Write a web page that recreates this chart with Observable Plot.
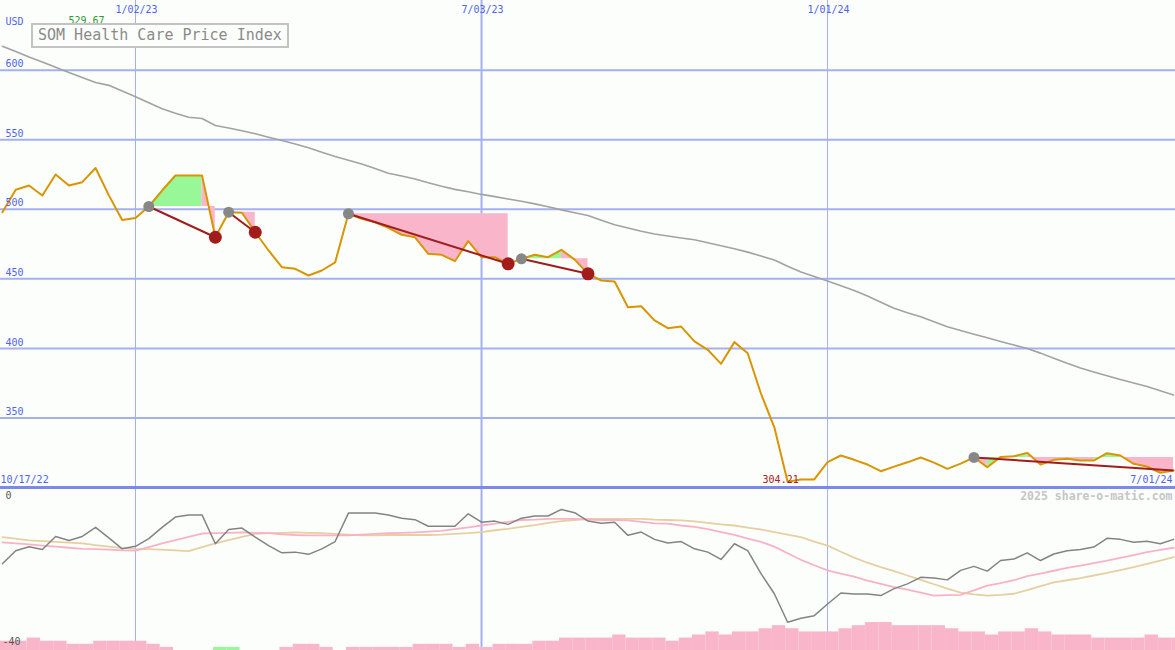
<!DOCTYPE html>
<html><head><meta charset="utf-8">
<script src="https://cdn.jsdelivr.net/npm/d3@7"></script>
<script src="https://cdn.jsdelivr.net/npm/@observablehq/plot@0.6"></script>
<style>
html,body{margin:0;padding:0;background:#fcfefc;}
#wrap{position:relative;width:1175px;height:650px;overflow:hidden;background:#fcfefc;}
#wrap svg{display:block;}
#title{position:absolute;left:31px;top:23px;width:258px;height:25px;box-sizing:border-box;border:2px solid #c3c3c3;
  font:15px "DejaVu Sans Mono",monospace;color:#8a8a8a;line-height:21px;padding-left:5px;white-space:nowrap;background:#fcfefc;}
</style></head><body>
<div id="wrap"><div id="top"></div><div id="bottom"></div><div id="title"></div></div>
<script>
// ---------- data ----------
const firstWeek = "2022-10-24", lastWeek = "2024-07-01";
const xStart = "2022-10-23", xEnd = "2024-07-02";
const gridDates = ["2023-01-02", "2023-07-03", "2024-01-01"];
const gridLabels = ["1/02/23", "7/03/23", "1/01/24"];
const priceTicks = [350, 400, 450, 500, 550, 600];
const edgeLabels = ["10/17/22", "7/01/24"];
const currency = "USD";
const titleText = "SOM Health Care Price Index";
const credit = "2025 share-o-matic.com";

const price = [
497.9, 514.0, 517.1, 509.9, 525.0, 517.1, 519.5, 529.67, 510.0, 492.3,
493.7, 502.0, 513.5, 524.3, 524.3, 524.3, 479.9, 497.9, 497.5, 483.5,
470.4, 458.4, 457.2, 452.4, 456.0, 461.8, 496.8, 493.2, 490.7, 486.7,
481.7, 479.9, 468.0, 467.3, 462.7, 477.1, 465.6, 465.6, 460.8, 464.4,
467.3, 465.6, 470.9, 463.8, 453.6, 448.8, 448.1, 429.6, 430.3, 420.1,
414.5, 415.7, 405.0, 399.0, 388.9, 404.5, 396.5, 367.4, 343.3, 304.21,
305.8, 305.8, 318.2, 323.0, 319.9, 316.5, 311.7, 315.0, 318.1, 321.6,
317.9, 313.4, 317.2, 321.6, 314.6, 322.0, 322.5, 324.9, 316.5, 319.9,
320.6, 319.4, 319.4, 324.7, 323.0, 317.0, 315.1, 310.6, 312.2];

const longAvg = [
617.2, 613.4, 609.5, 605.9, 602.2, 598.3, 594.8, 591.2, 589.1, 585.0,
580.9, 576.6, 572.3, 569.1, 566.2, 565.3, 560.2, 558.4, 556.5, 554.3,
551.8, 549.5, 547.0, 544.2, 541.0, 538.0, 535.3, 532.6, 529.3, 525.9,
523.9, 521.8, 519.1, 516.5, 514.3, 512.6, 510.7, 509.1, 507.4, 505.8,
503.9, 501.8, 499.6, 497.5, 495.5, 492.1, 488.9, 486.6, 484.2, 482.2,
480.8, 479.4, 478.1, 476.0, 473.8, 471.7, 469.2, 466.4, 463.6, 459.1,
455.0, 451.7, 448.5, 445.0, 441.6, 437.6, 433.2, 428.9, 425.7, 422.8,
419.2, 415.5, 412.8, 410.2, 407.6, 405.0, 402.4, 399.9, 396.6, 393.0,
389.3, 385.9, 383.1, 380.3, 377.6, 375.1, 372.6, 369.6, 366.5];

// signals: start week index, end week index, closed?
const sigStart = [11, 17, 26, 39, 73];
const sigEnd   = [16, 19, 38, 44, 88];
const sigClosed = [true, true, true, true, false];

// lower panel
const oscTicks = [0, -40];
const osc = [
-16.8, -13.2, -12.1, -12.9, -9.3, -10.4, -9.3, -6.8, -9.7, -12.7,
-12.0, -9.9, -6.8, -4.0, -3.4, -3.4, -11.3, -7.4, -7.0, -9.5,
-11.8, -13.8, -13.6, -14.2, -12.7, -10.7, -2.9, -2.9, -2.9, -3.4,
-4.3, -4.7, -6.5, -6.5, -6.5, -3.1, -5.4, -5.1, -6.0, -4.3,
-3.7, -3.7, -1.9, -2.8, -5.1, -5.7, -5.4, -9.0, -8.1, -10.1,
-11.1, -10.7, -12.7, -13.6, -15.6, -11.3, -13.2, -19.5, -25.0, -32.8,
-31.7, -31.0, -27.8, -24.8, -25.1, -25.1, -25.5, -23.6, -22.3, -20.5,
-20.7, -21.2, -18.6, -17.5, -18.8, -15.9, -15.5, -13.8, -15.9, -14.1,
-13.2, -12.9, -12.2, -9.8, -10.1, -10.9, -10.6, -11.3, -10.1];
const oscFast = [
-10.9, -11.2, -11.5, -11.8, -12.1, -12.4, -12.7, -12.8, -12.9, -13.1,
-13.2, -12.2, -11.2, -10.3, -9.4, -8.5, -8.4, -8.3, -8.2, -8.3,
-8.4, -8.7, -8.9, -9.0, -9.0, -9.0, -9.0, -8.8, -8.6, -8.4,
-8.3, -8.2, -8.0, -7.8, -7.3, -6.8, -6.3, -5.8, -5.3, -4.8,
-4.7, -4.5, -4.5, -4.5, -4.7, -4.8, -4.8, -4.9, -5.3, -5.7,
-5.8, -6.3, -6.7, -7.3, -8.1, -8.9, -9.9, -10.8, -12.1, -13.9,
-15.7, -17.2, -18.6, -19.5, -20.3, -21.4, -22.3, -23.2, -23.9, -24.7,
-25.5, -25.4, -25.3, -24.1, -22.8, -22.1, -21.3, -20.2, -19.5, -18.7,
-17.9, -17.3, -16.6, -15.9, -15.2, -14.4, -13.6, -13.0, -12.4];
const oscSlow = [
-9.5, -9.9, -10.4, -10.6, -10.8, -11.0, -11.2, -11.7, -12.1, -12.5,
-12.7, -12.8, -12.9, -13.1, -13.3, -12.2, -11.2, -10.3, -9.4, -8.6,
-8.4, -8.3, -8.2, -8.3, -8.4, -8.6, -8.8, -9.0, -9.0, -8.9,
-8.9, -8.9, -8.9, -8.8, -8.6, -8.4, -8.1, -7.6, -7.2, -6.7,
-6.2, -5.6, -5.1, -4.8, -4.5, -4.5, -4.5, -4.5, -4.5, -4.7,
-4.8, -4.9, -5.2, -5.6, -6.0, -6.3, -6.9, -7.4, -8.1, -8.8,
-9.5, -10.7, -11.8, -13.5, -15.1, -16.5, -17.7, -18.8, -20.0, -21.2,
-22.4, -23.6, -24.7, -25.2, -25.5, -25.3, -25.0, -24.0, -22.9, -21.9,
-21.3, -20.7, -20.0, -19.3, -18.5, -17.7, -16.8, -15.9, -15.0];
// weekly bar levels (negative = green)
const barLevels = [
3, 3, 4, 3, 3, 2, 2, 3, 3, 3,
3, 2, 1, 0, 0, 0, -1, -1, 0, 0,
0, 1, 2, 2, 1, 0, 1, 1, 1, 1,
1, 2, 2, 2, 1, 2, 1, 2, 2, 2,
3, 3, 4, 4, 4, 4, 5, 4, 4, 4,
3, 4, 5, 6, 5, 6, 6, 7, 8, 7,
6, 6, 6, 7, 8, 9, 9, 8, 8, 8,
8, 7, 6, 6, 5, 6, 6, 7, 6, 5,
5, 5, 4, 4, 4, 4, 5, 4, 4];

// ---------- styles ----------
const BG = "#fcfefc", GRID = "#a3b1f0", AXIS = "#7b8ae9", BLUE = "#5063ee";
const ORANGE = "#d99500", MAGRAY = "#a2a2a2", GREENF = "#98f898", PINKF = "#f9b5c9";
const TREND = "#a01d1d", FONT = "DejaVu Sans Mono, monospace";
const W = 1175;

const parse = d3.utcParse("%Y-%m-%d");
const dates = d3.utcMonday.range(parse(firstWeek), d3.utcDay.offset(parse(lastWeek), 1));
const xDomain = [parse(xStart), parse(xEnd)];
const gDates = gridDates.map(parse);

const rows = dates.map((d, i) => ({date: d, price: price[i], avg: longAvg[i],
  osc: osc[i], fast: oscFast[i], slow: oscSlow[i], bar: barLevels[i]}));

const signals = sigStart.map((s, k) => ({s, e: sigEnd[k], closed: sigClosed[k]}));
// fill between the signal's start level and the price; runs of equal colour are merged
const greenRows = [], pinkRows = [];
let run = 0;
signals.forEach((sg) => {
  const ref = price[sg.s];
  let prev = null;
  for (let i = sg.s; i < sg.e; i++) {
    const isGreen = price[i + 1] >= ref;
    if (isGreen !== prev) run++;
    const target = isGreen ? greenRows : pinkRows;
    if (isGreen !== prev) target.push({run, date: dates[i], ref, p: price[i]});
    target.push({run, date: dates[i + 1], ref, p: price[i + 1]});
    prev = isGreen;
  }
});

const maxI = d3.maxIndex(price), minI = d3.minIndex(price);
const pMin = 300, pSpan = 350.1;

const T = (o) => ({fontSize: 10, fontFamily: FONT, lineAnchor: "middle", ...o});

const topPlot = Plot.plot({
  width: W, height: 489,
  marginTop: 0, marginRight: 0, marginBottom: 2, marginLeft: 0,
  style: {background: BG, fontFamily: FONT, overflow: "visible"},
  x: {type: "utc", domain: xDomain, axis: null},
  y: {domain: [pMin, pMin + pSpan], axis: null},
  marks: [
    Plot.ruleX(gDates, {x: d => d, stroke: GRID, strokeWidth: (d, i) => i === 1 ? 2 : 1}),
    Plot.ruleY(priceTicks, {stroke: GRID, strokeWidth: 2}),
    Plot.areaY(greenRows, {x: "date", y1: "ref", y2: "p", z: "run", fill: GREENF}),
    Plot.areaY(pinkRows, {x: "date", y1: "ref", y2: "p", z: "run", fill: PINKF}),
    Plot.lineY(rows, {x: "date", y: "avg", stroke: MAGRAY, strokeWidth: 1.6}),
    Plot.lineY(rows, {x: "date", y: "price", stroke: ORANGE, strokeWidth: 2}),
    Plot.link(signals, {x1: d => dates[d.s], y1: d => price[d.s], x2: d => dates[d.e], y2: d => price[d.e],
      stroke: TREND, strokeWidth: 2}),
    Plot.dot(signals, {x: d => dates[d.s], y: d => price[d.s], r: 5.5, fill: "#878787"}),
    Plot.dot(signals.filter(d => d.closed), {x: d => dates[d.e], y: d => price[d.e], r: 6.5, fill: "#a31c1c"}),
    Plot.ruleY([pMin], {stroke: AXIS, strokeWidth: 3}),
    Plot.text(priceTicks, T({y: d => d, frameAnchor: "left", dx: 5, dy: -6, textAnchor: "start",
      text: d => String(d), fill: BLUE})),
    Plot.text([currency], T({frameAnchor: "top-left", dx: 5, dy: 21, textAnchor: "start", fill: BLUE})),
    Plot.text(gDates, T({x: d => d, frameAnchor: "top", dx: 1, dy: 9, text: (d, i) => gridLabels[i], fill: BLUE})),
    Plot.text([maxI], T({x: i => dates[i], frameAnchor: "top", dy: 20.5, dx: -9, text: i => price[i].toFixed(2),
      fill: "#2d9a2d"})),
    Plot.text([minI], T({x: i => dates[i], frameAnchor: "bottom", dy: -8, dx: -7, text: i => price[i].toFixed(2),
      fill: "#a52020"})),
    Plot.text([edgeLabels[0]], T({frameAnchor: "bottom-left", dx: 0, dy: -8, textAnchor: "start", fill: BLUE})),
    Plot.text([edgeLabels[1]], T({frameAnchor: "bottom-right", dx: -3, dy: -8, textAnchor: "end", fill: BLUE}))
  ]
});

const oTop = 3.56, oBot = -40.55, levelUnit = 0.85;
const bottomPlot = Plot.plot({
  width: W, height: 161,
  marginTop: 0, marginRight: 0, marginBottom: 0, marginLeft: 0,
  style: {background: BG, fontFamily: FONT, overflow: "visible"},
  x: {type: "utc", domain: xDomain, axis: null},
  y: {domain: [oBot, oTop], axis: null},
  marks: [
    Plot.ruleX(gDates, {x: d => d, stroke: GRID, strokeWidth: (d, i) => i === 1 ? 2 : 1}),
    Plot.rect(rows.filter(d => d.bar > 0), {
      x1: d => d3.utcDay.offset(d.date, -1), x2: d => d3.utcDay.offset(d.date, 6),
      y1: oBot, y2: d => oBot + d.bar * levelUnit, fill: PINKF}),
    Plot.rect(rows.filter(d => d.bar < 0), {
      x1: d => d3.utcDay.offset(d.date, -1), x2: d => d3.utcDay.offset(d.date, 6),
      y1: oBot, y2: d => oBot - d.bar * levelUnit, fill: GREENF}),
    Plot.lineY(rows, {x: "date", y: "slow", stroke: "#e6cfa0", strokeWidth: 1.8}),
    Plot.lineY(rows, {x: "date", y: "fast", stroke: "#f8b2c8", strokeWidth: 1.8}),
    Plot.lineY(rows, {x: "date", y: "osc", stroke: "#838383", strokeWidth: 1.5}),
    Plot.text([oscTicks[0]], T({y: d => d, frameAnchor: "left", dx: 5, dy: -6.5, textAnchor: "start",
      text: d => String(d), fill: "#555"})),
    Plot.text([oscTicks[1]], T({y: d => d, frameAnchor: "left", dx: 2, dy: -6.5, textAnchor: "start",
      text: d => String(d), fill: "#555"})),
    Plot.text([credit], T({frameAnchor: "top-right", dx: -3, dy: 7, textAnchor: "end", fill: "#c6c6c6",
      fontWeight: "bold", fontSize: 11.5}))
  ]
});

document.getElementById("top").appendChild(topPlot);
document.getElementById("bottom").appendChild(bottomPlot);
document.getElementById("title").textContent = titleText;
</script></body></html>
